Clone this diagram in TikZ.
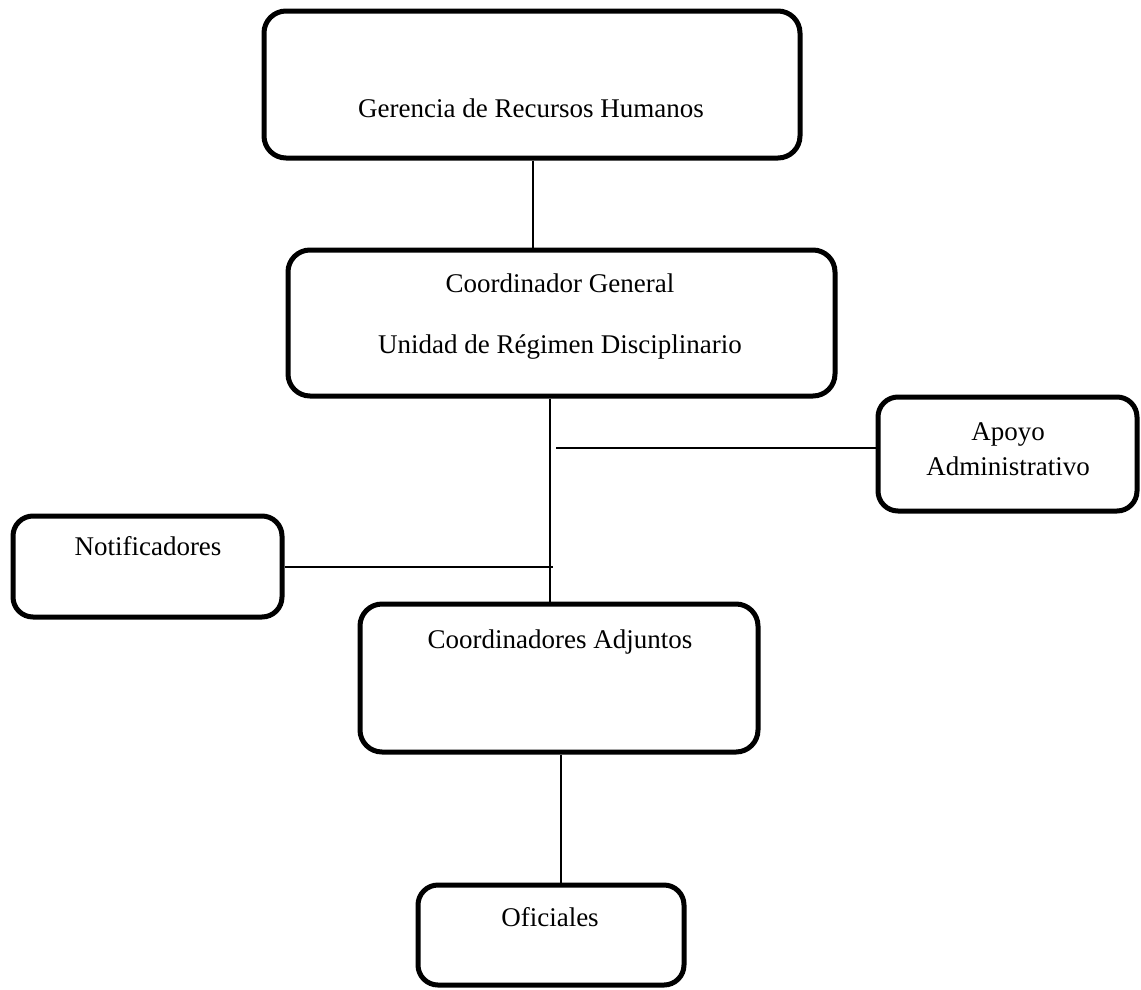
\documentclass[tikz,border=0pt]{standalone}
\usepackage{fontspec}
\setmainfont{Liberation Serif}
\begin{document}
\begin{tikzpicture}[x=1pt,y=-1pt,
  orgbox/.style={draw=black,line width=5pt,rounded corners=22pt,inner sep=0pt,anchor=center},
  lbl/.style={font=\fontsize{27}{32}\selectfont,anchor=base,inner sep=0pt},
  conn/.style={draw=black,line width=2pt}]
\useasboundingbox (0,0) rectangle (1141,989);
% boxes
\node[orgbox,minimum width=536pt,minimum height=147pt] (b1) at (532,84.5) {};
\node[orgbox,minimum width=547pt,minimum height=146pt] (b2) at (561.5,323) {};
\node[orgbox,minimum width=259pt,minimum height=114pt,rounded corners=20pt] (apoyo) at (1007.5,454) {};
\node[orgbox,minimum width=269pt,minimum height=101pt,rounded corners=20pt] (notif) at (147.5,566.5) {};
\node[orgbox,minimum width=398pt,minimum height=148pt] (adj) at (559,678) {};
\node[orgbox,minimum width=266pt,minimum height=100pt,rounded corners=20pt] (ofic) at (551,935) {};
% labels
\node[lbl] (t1) at (531,117) {Gerencia de Recursos Humanos};
\node[lbl] (t2) at (560,292) {Coordinador General};
\node[lbl] (t3) at (560,353) {Unidad de Régimen Disciplinario};
\node[lbl] (t4) at (1008,440) {Apoyo};
\node[lbl] (t5) at (1008,475) {Administrativo};
\node[lbl] (t6) at (148,555) {Notificadores};
\node[lbl] (t7) at (560,648) {Coordinadores Adjuntos};
\node[lbl] (t8) at (550,926) {Oficiales};
% connector helper coordinates
\coordinate (sp1) at (533,0);
\coordinate (sp2) at (550,0);
\coordinate (sp3) at (561,0);
\coordinate (apj) at (556,448);
\coordinate (noj) at (553,567);
% connectors
\draw[conn] (b1.south -| sp1) -- (b2.north -| sp1);
\draw[conn] (b2.south -| sp2) -- (adj.north -| sp2);
\draw[conn] (apj) -- (apj -| apoyo.west);
\draw[conn] (notif.east |- noj) -- (noj);
\draw[conn] (adj.south -| sp3) -- (ofic.north -| sp3);
\end{tikzpicture}
\end{document}
